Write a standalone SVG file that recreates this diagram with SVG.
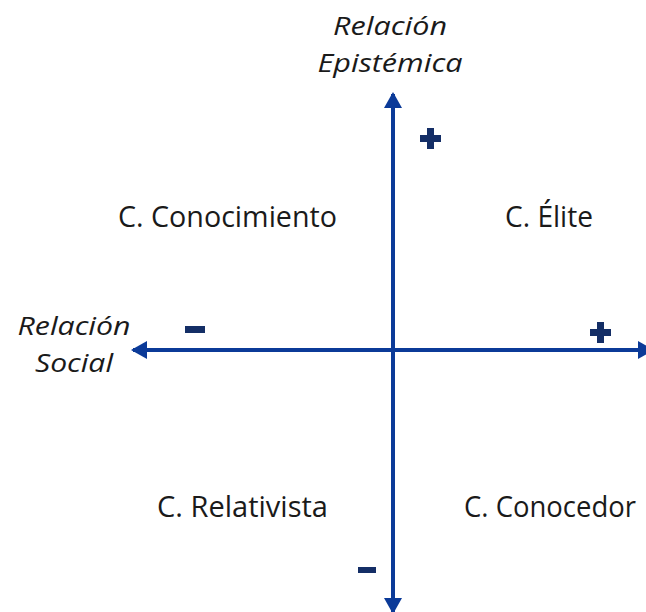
<svg xmlns="http://www.w3.org/2000/svg" width="646" height="612" viewBox="0 0 646 612">
  <style>
    .axis { stroke: #0B3A98; stroke-width: 4; fill: none; }
    .quad { font-family: "Open Sans", "Noto Sans", "Liberation Sans", sans-serif; font-size: 29px; fill: #1a1a1a; }
    .ax { font-family: "Open Sans", "Noto Sans", "Liberation Sans", sans-serif; font-size: 25px; font-style: italic; fill: #1a1a1a; }
    .sign { fill: #142E66; }
  </style>
  <defs>
    <marker id="arrow" markerUnits="userSpaceOnUse" markerWidth="18" markerHeight="18" viewBox="0 0 16 18" refX="14" refY="9" orient="auto">
      <path d="M0,0 L16,9 L0,18 Z" fill="#0B3A98"/>
    </marker>
  </defs>
  <rect width="646" height="612" fill="#ffffff"/>
  <g id="connectors">
    <line class="axis" x1="393" y1="350" x2="393" y2="94" marker-end="url(#arrow)"/>
    <line class="axis" x1="393" y1="350" x2="393" y2="612" marker-end="url(#arrow)"/>
    <line class="axis" x1="393" y1="350" x2="133" y2="350" marker-end="url(#arrow)"/>
    <line class="axis" x1="393" y1="350" x2="652" y2="350" marker-end="url(#arrow)"/>
  </g>
  <g id="axis-epistemica">
    <text class="ax" x="390" y="35" text-anchor="middle" textLength="114" lengthAdjust="spacingAndGlyphs">Relación</text>
    <text class="ax" x="390" y="72" text-anchor="middle" textLength="145" lengthAdjust="spacingAndGlyphs">Epistémica</text>
  </g>
  <g id="axis-social">
    <text class="ax" x="74" y="335" text-anchor="middle" textLength="113" lengthAdjust="spacingAndGlyphs">Relación</text>
    <text class="ax" x="74" y="372" text-anchor="middle" textLength="78" lengthAdjust="spacingAndGlyphs">Social</text>
  </g>
  <g id="c-conocimiento">
    <text class="quad" x="118" y="227" textLength="219" lengthAdjust="spacingAndGlyphs">C. Conocimiento</text>
  </g>
  <g id="c-elite">
    <text class="quad" x="505" y="227" textLength="88" lengthAdjust="spacingAndGlyphs">C. Élite</text>
  </g>
  <g id="c-relativista">
    <text class="quad" x="157" y="517" textLength="171" lengthAdjust="spacingAndGlyphs">C. Relativista</text>
  </g>
  <g id="c-conocedor">
    <text class="quad" x="464" y="517" textLength="172" lengthAdjust="spacingAndGlyphs">C. Conocedor</text>
  </g>
  <g id="signs">
    <path class="sign" d="M427,128 h7 v7 h7 v7 h-7 v7 h-7 v-7 h-7 v-7 h7 Z"/>
    <path class="sign" d="M597,322 h7 v7 h7 v7 h-7 v7 h-7 v-7 h-7 v-7 h7 Z"/>
    <rect class="sign" x="185" y="326" width="20" height="7"/>
    <rect class="sign" x="358" y="567" width="18" height="6"/>
  </g>
</svg>
